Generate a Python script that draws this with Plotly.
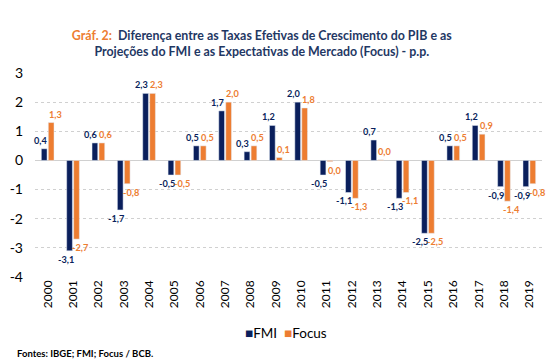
import plotly.graph_objects as go

years = [str(y) for y in range(2000, 2020)]
fmi = [0.4, -3.1, 0.6, -1.7, 2.3, -0.5, 0.5, 1.7, 0.3, 1.2, 2.0, -0.5, -1.1, 0.7, -1.3, -2.5, 0.5, 1.2, -0.9, -0.9]
focus = [1.3, -2.7, 0.6, -0.8, 2.3, -0.5, 0.5, 2.0, 0.5, 0.1, 1.8, -0.04, -1.3, 0.02, -1.1, -2.5, 0.5, 0.9, -1.4, -0.8]
y_ticks = [3, 2, 1, 0, -1, -2, -3, -4]
series_names = ["FMI", "Focus"]

NAVY = "#0a1f5c"
ORANGE = "#ed7d31"
TITLE_NAVY = "#1f3864"
FONT = "Lato"

def fmt(v):
    r = round(v, 1)
    if r == 0:
        return "0,0"
    return f"{r:.1f}".replace(".", ",")

fig = go.Figure()
fig.add_trace(go.Bar(x=years, y=fmi, name=series_names[0], marker_color=NAVY))
fig.add_trace(go.Bar(x=years, y=focus, name=series_names[1], marker_color=ORANGE))

annotations = []
for series, color, shift in ((fmi, NAVY, -7.5), (focus, ORANGE, 7.5)):
    for i, v in enumerate(series):
        annotations.append(dict(
            x=i, y=v, xref="x", yref="y", text=fmt(v), showarrow=False,
            xshift=shift, yshift=1 if v >= 0 else -1,
            yanchor="bottom" if v >= 0 else "top", xanchor="center",
            font=dict(size=9.2, family=FONT, color=color, weight="bold"),
        ))

# legend drawn as text (compact, like the original)
legend_text = (f"<span style='color:{NAVY}'>■</span>{series_names[0]}  "
               f"<span style='color:{ORANGE}'>■</span>{series_names[1]}")
annotations.append(dict(text=legend_text, xref="paper", yref="paper",
                        x=0.495, y=-0.275, xanchor="center", yanchor="middle", showarrow=False,
                        font=dict(size=13.5, family=FONT, color="black")))

annotations.append(dict(text="Fontes: IBGE; FMI; Focus / BCB.", xref="paper", yref="paper",
                        x=-0.0394, y=-0.377, xanchor="left", yanchor="middle", showarrow=False,
                        font=dict(size=9.5, family=FONT, color="black", weight="bold")))

fig.update_layout(
    width=547, height=353,
    margin=dict(l=27, r=13, t=65, b=84, autoexpand=False),
    paper_bgcolor="white", plot_bgcolor="white",
    font=dict(family=FONT, color="black"),
    barmode="group", bargap=0.45, bargroupgap=0.18,
    showlegend=False,
    title=dict(
        text=f"<span style='color:{ORANGE}'>Gráf. 2:</span>  Diferença entre as Taxas Efetivas de Crescimento do PIB e as<br>Projeções do FMI e as Expectativas de Mercado (Focus) - p.p.",
        x=0.464, xanchor="center", y=0.909, yanchor="middle",
        font=dict(size=12.4, family=FONT, color=TITLE_NAVY, weight="bold"),
    ),
    xaxis=dict(type="category", range=[-0.5, len(years) - 0.5], tickangle=-90,
               tickfont=dict(size=12, family=FONT, color="black"),
               showgrid=False, showline=False, ticks="", automargin=False),
    yaxis=dict(range=[-4, 3], tickvals=y_ticks, ticktext=[str(t) for t in y_ticks],
               tickfont=dict(size=14, family=FONT, color="black"),
               showgrid=True, gridcolor="#d0d0d0", griddash="dot", gridwidth=1,
               zeroline=True, zerolinecolor="#d0d0d0", zerolinewidth=1,
               ticklabelstandoff=11, automargin=False),
    annotations=annotations,
)

fig.write_html("out.html")
